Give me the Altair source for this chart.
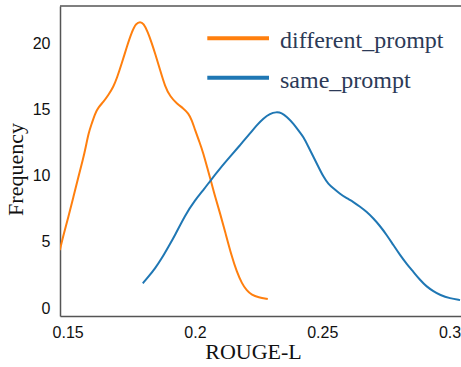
import altair as alt
import pandas as pd

series_names = ["different_prompt", "same_prompt"]
series_colors = ["#ff7f0e", "#1f77b4"]

diff_x = [0.14694, 0.14835, 0.15031, 0.15228, 0.15424, 0.15597, 0.15715, 0.15817,
          0.15950, 0.16080, 0.16209, 0.16406, 0.16602, 0.16798, 0.16932, 0.17128,
          0.17325, 0.17521, 0.17690, 0.17847, 0.17976, 0.18149, 0.18306, 0.18436,
          0.18632, 0.18828, 0.19025, 0.19288, 0.19547, 0.19743, 0.19877, 0.20006,
          0.20175, 0.20332, 0.20489, 0.20623, 0.20792, 0.20988, 0.21185, 0.21448,
          0.21644, 0.21840, 0.22037, 0.22233, 0.22492, 0.22861]
diff_y = [4.38, 5.52, 6.90, 8.41, 9.92, 11.19, 12.19, 13.20,
          13.96, 14.71, 15.17, 15.59, 16.10, 16.73, 17.36, 18.50,
          19.75, 20.88, 21.52, 21.64, 21.52, 20.88, 20.01, 19.25,
          17.99, 16.73, 16.00, 15.45, 15.09, 14.72, 14.21, 13.45,
          12.57, 11.69, 10.56, 9.67, 8.41, 7.16, 5.77, 3.88,
          2.74, 1.87, 1.31, 0.98, 0.81, 0.68]

same_x = [0.17953, 0.18173, 0.18436, 0.18699, 0.18958, 0.19221, 0.19614, 0.20006,
          0.20332, 0.20623, 0.20988, 0.21381, 0.21774, 0.22167, 0.22429, 0.22688,
          0.22951, 0.23187, 0.23411, 0.23607, 0.23866, 0.24129, 0.24259, 0.24456,
          0.24652, 0.24848, 0.25045, 0.25241, 0.25437, 0.25700, 0.25963, 0.26222,
          0.26485, 0.26748, 0.27007, 0.27271, 0.27534, 0.27793, 0.28056, 0.28319,
          0.28578, 0.28842, 0.29105, 0.29364, 0.29627, 0.30020, 0.30413]
same_y = [1.87, 2.37, 3.00, 3.76, 4.63, 5.52, 7.03, 8.16,
          8.92, 9.67, 10.56, 11.44, 12.32, 13.20, 13.83, 14.34,
          14.70, 14.82, 14.76, 14.46, 13.96, 13.25, 12.95, 12.19,
          11.44, 10.68, 9.92, 9.37, 9.05, 8.62, 8.29, 8.03,
          7.66, 7.28, 6.78, 6.20, 5.52, 4.76, 4.01, 3.33,
          2.74, 2.12, 1.61, 1.28, 0.98, 0.73, 0.60]

x_ticks = [0.15, 0.2, 0.25, 0.3]
y_ticks = [0, 5, 10, 15, 20]

rows = []
for i, (xs, ys) in enumerate([(diff_x, diff_y), (same_x, same_y)]):
    for k, (a, b) in enumerate(zip(xs, ys)):
        rows.append({"series": series_names[i], "x": a, "y": b, "order": k})
df = pd.DataFrame(rows)

W, H = 401, 310

x_enc = alt.X("x:Q",
              scale=alt.Scale(domain=[0.147, 0.3045], nice=False, zero=False),
              axis=alt.Axis(values=x_ticks, format=".2~f", title="ROUGE-L",
                            titleFont="Liberation Serif", titleFontSize=22,
                            titleFontWeight="normal", titleColor="#111",
                            titleX=193, titleY=42, titleBaseline="alphabetic",
                            titleAnchor="start", titleAlign="center",
                            labelFont="Liberation Sans", labelFontSize=16,
                            labelColor="#111", labelPadding=8,
                            labelOverlap=False, labelFlush=False,
                            ticks=False, grid=False,
                            domainColor="#555", domainWidth=1.5))
y_enc = alt.Y("y:Q",
              scale=alt.Scale(domain=[-0.6, 22.83], nice=False, zero=False),
              axis=alt.Axis(values=y_ticks, title="Frequency",
                            titleFont="Liberation Serif", titleFontSize=22,
                            titleFontWeight="normal", titleColor="#111",
                            titleAngle=-90, titleX=-38, titleY=163,
                            titleBaseline="alphabetic", titleAlign="center",
                            titleAnchor="start",
                            labelFont="Liberation Sans", labelFontSize=16,
                            labelColor="#111", labelPadding=10,
                            labelOverlap=False, labelFlush=False,
                            ticks=False, grid=False,
                            domainColor="#555", domainWidth=1.5))

lines = alt.Chart(df).mark_line(strokeWidth=2, clip=True, interpolate="basis").encode(
    x=x_enc, y=y_enc,
    color=alt.Color("series:N", scale=alt.Scale(domain=series_names, range=series_colors),
                    legend=None),
    order="order:Q",
    detail="series:N",
)

top_line = alt.Chart(pd.DataFrame({"a": [0]})).mark_rule(color="#555", strokeWidth=1.5).encode(
    x=alt.value(0), x2=alt.value(W), y=alt.value(0))

legend_layers = []
leg_line_y = [32.3, 71.7]
leg_text_y = [42.3, 81.7]
for i, name in enumerate(series_names):
    ldf = pd.DataFrame({"label": [name]})
    legend_layers.append(
        alt.Chart(ldf).mark_rule(color=series_colors[i], strokeWidth=4).encode(
            x=alt.value(147.3), x2=alt.value(209), y=alt.value(leg_line_y[i])))
    legend_layers.append(
        alt.Chart(ldf).mark_text(font="Liberation Serif", fontSize=24, color="#2c3a57",
                                 align="left", baseline="alphabetic").encode(
            x=alt.value(220), y=alt.value(leg_text_y[i]), text="label:N"))

chart = alt.layer(lines, top_line, *legend_layers).properties(
    width=W, height=H,
    padding={"left": 60, "top": 6, "right": 0, "bottom": 51},
    autosize=alt.AutoSizeParams(type="none"),
    background="white",
).configure_view(stroke=None)

chart.save("out.html", embed_options={"renderer": "svg", "actions": False})
